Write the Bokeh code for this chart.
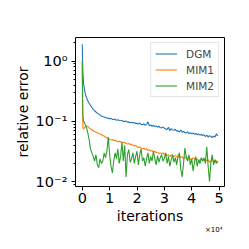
from bokeh.plotting import figure
from bokeh.models import (Range1d, FixedTicker, LogTicker, CustomJSTickFormatter,
                          Legend, LegendItem, Title)
from bokeh.embed import file_html
from bokeh.resources import INLINE

iterations = [0, 100, 250, 500, 1000, 1500, 2000, 2500, 3000, 3500,
              4000, 4500, 5000, 5500, 6000, 6500, 7000, 7500, 8000, 8500,
              9000, 9500, 10000, 10500, 11000, 11500, 12000, 12500, 13000, 13500,
              14000, 14500, 15000, 15500, 16000, 16500, 17000, 17500, 18000, 18500,
              19000, 19500, 20000, 20500, 21000, 21500, 22000, 22500, 23000, 23500,
              24000, 24500, 25000, 25500, 26000, 26500, 27000, 27500, 28000, 28500,
              29000, 29500, 30000, 30500, 31000, 31500, 32000, 32500, 33000, 33500,
              34000, 34500, 35000, 35500, 36000, 36500, 37000, 37500, 38000, 38500,
              39000, 39500, 40000, 40500, 41000, 41500, 42000, 42500, 43000, 43500,
              44000, 44500, 45000, 45500, 46000, 46500, 47000, 47500, 48000, 48500,
              49000, 49500]

dgm = [1.9, 1.0, 0.6, 0.42, 0.3, 0.25, 0.22, 0.2, 0.185, 0.17,
       0.158, 0.15, 0.143, 0.137, 0.132, 0.127, 0.123, 0.12, 0.118, 0.116,
       0.114, 0.112, 0.11, 0.112, 0.108, 0.107, 0.109, 0.104, 0.106, 0.103,
       0.102, 0.104, 0.1, 0.099, 0.101, 0.097, 0.098, 0.095, 0.097, 0.094,
       0.096, 0.092, 0.093, 0.09, 0.094, 0.089, 0.088, 0.091, 0.086, 0.089,
       0.098, 0.085, 0.087, 0.083, 0.086, 0.082, 0.084, 0.08, 0.083, 0.079,
       0.078, 0.081, 0.077, 0.075, 0.073, 0.08, 0.07, 0.076, 0.072, 0.071,
       0.074, 0.069, 0.07, 0.067, 0.072, 0.066, 0.068, 0.065, 0.064, 0.067,
       0.063, 0.065, 0.062, 0.064, 0.061, 0.063, 0.06, 0.062, 0.059, 0.061,
       0.058, 0.06, 0.056, 0.059, 0.055, 0.058, 0.056, 0.054, 0.057, 0.055,
       0.062, 0.057]

mim1 = [1.0, 0.15, 0.078, 0.075, 0.08, 0.084, 0.082, 0.078, 0.075, 0.072,
        0.07, 0.068, 0.066, 0.065, 0.063, 0.062, 0.06, 0.058, 0.057, 0.055,
        0.053, 0.052, 0.05, 0.049, 0.05, 0.048, 0.049, 0.047, 0.046, 0.047,
        0.045, 0.046, 0.044, 0.045, 0.043, 0.042, 0.043, 0.041, 0.042, 0.04,
        0.039, 0.04, 0.038, 0.037, 0.038, 0.036, 0.035, 0.036, 0.034, 0.035,
        0.033, 0.034, 0.032, 0.033, 0.031, 0.032, 0.03, 0.031, 0.029, 0.03,
        0.029, 0.03, 0.028, 0.029, 0.027, 0.028, 0.026, 0.028, 0.027, 0.026,
        0.027, 0.026, 0.025, 0.027, 0.025, 0.026, 0.024, 0.025, 0.026, 0.024,
        0.025, 0.024, 0.023, 0.025, 0.024, 0.023, 0.024, 0.022, 0.023, 0.024,
        0.022, 0.023, 0.024, 0.022, 0.023, 0.021, 0.022, 0.024, 0.021, 0.023,
        0.022, 0.021]

mim2 = [1.0, 0.3, 0.12, 0.1, 0.09, 0.08, 0.065, 0.05, 0.035, 0.03,
        0.026, 0.022, 0.028, 0.019, 0.017, 0.024, 0.02, 0.022, 0.03, 0.025,
        0.032, 0.055, 0.028, 0.018, 0.014, 0.022, 0.03, 0.024, 0.035, 0.02,
        0.026, 0.045, 0.022, 0.04, 0.012, 0.028, 0.034, 0.021, 0.024, 0.03,
        0.02, 0.026, 0.032, 0.019, 0.028, 0.035, 0.022, 0.025, 0.018, 0.024,
        0.03, 0.02, 0.026, 0.022, 0.032, 0.024, 0.019, 0.027, 0.021, 0.025,
        0.028, 0.022, 0.024, 0.03, 0.02, 0.026, 0.018, 0.023, 0.028, 0.021,
        0.025, 0.019, 0.027, 0.03, 0.016, 0.012, 0.02, 0.036, 0.025, 0.022,
        0.028, 0.019, 0.024, 0.015, 0.021, 0.026, 0.018, 0.023, 0.02, 0.025,
        0.022, 0.025, 0.02, 0.038, 0.018, 0.01, 0.021, 0.028, 0.019, 0.023,
        0.02, 0.022]

x_ticks = [0, 10000, 20000, 30000, 40000, 50000]
series_names = ["DGM", "MIM1", "MIM2"]
colors = ["#1f77b4", "#ff7f0e", "#2ca02c"]

FONT = "DejaVu Sans"

p = figure(width=241, height=241, y_axis_type="log",
           x_range=Range1d(-2475, 51975), y_range=Range1d(10 ** -2.08, 10 ** 0.39),
           output_backend="svg", toolbar_location=None,
           min_border_left=75, min_border_right=17, min_border_top=37, min_border_bottom=55)
p.background_fill_color = "white"
p.border_fill_color = "white"
p.outline_line_color = "black"
p.outline_line_width = 1
p.xgrid.visible = False
p.ygrid.visible = False

renderers = []
for ys, c in zip([dgm, mim1, mim2], colors):
    r = p.line(iterations, ys, line_color=c, line_width=1.1)
    renderers.append(r)

legend = Legend(items=[LegendItem(label=n, renderers=[r]) for n, r in zip(series_names, renderers)],
                location="top_right", margin=5, padding=4, spacing=3,
                glyph_width=22, glyph_height=13, label_height=13, label_standoff=9,
                label_text_font=FONT, label_text_font_size="10.5px",
                border_line_color="#cccccc", border_line_width=1,
                background_fill_alpha=0.8)
p.add_layout(legend)

xa = p.xaxis[0]
xa.ticker = FixedTicker(ticks=x_ticks)
xa.formatter = CustomJSTickFormatter(code="return (tick / 10000).toFixed(0);")
xa.axis_label = "iterations"
ya = p.yaxis[0]
ya.ticker = LogTicker(num_minor_ticks=10)
ya.formatter = CustomJSTickFormatter(code="""
const e = Math.round(Math.log10(tick));
const sup = {'-':'\u207b','0':'\u2070','1':'\u00b9','2':'\u00b2','3':'\u00b3','4':'\u2074','5':'\u2075','6':'\u2076','7':'\u2077','8':'\u2078','9':'\u2079'};
return '10' + String(e).split('').map(ch => sup[ch]).join('');
""")
ya.axis_label = "relative error"

for ax in [xa, ya]:
    ax.axis_line_color = None
    ax.major_tick_line_color = "black"
    ax.minor_tick_line_color = "black"
    ax.major_tick_out = 4
    ax.major_tick_in = 0
    ax.minor_tick_out = 2
    ax.minor_tick_in = 0
    ax.major_label_text_font = FONT
    ax.major_label_text_font_size = "14.5px"
    ax.major_label_text_color = "black"
    ax.axis_label_text_font = FONT
    ax.axis_label_text_font_size = "14px"
    ax.axis_label_text_font_style = "normal"
    ax.axis_label_text_color = "black"
    ax.major_label_standoff = 2
    ax.axis_label_standoff = 2
xa.minor_tick_line_color = None
ya.major_label_standoff = 4

offset_title = Title(text="\u00d710\u2074", align="right", text_font=FONT,
                     text_font_size="7px", text_font_style="normal",
                     text_color="black", standoff=-14, offset=2)
p.add_layout(offset_title, "below")

open("out.html", "w").write(file_html(p, INLINE))
